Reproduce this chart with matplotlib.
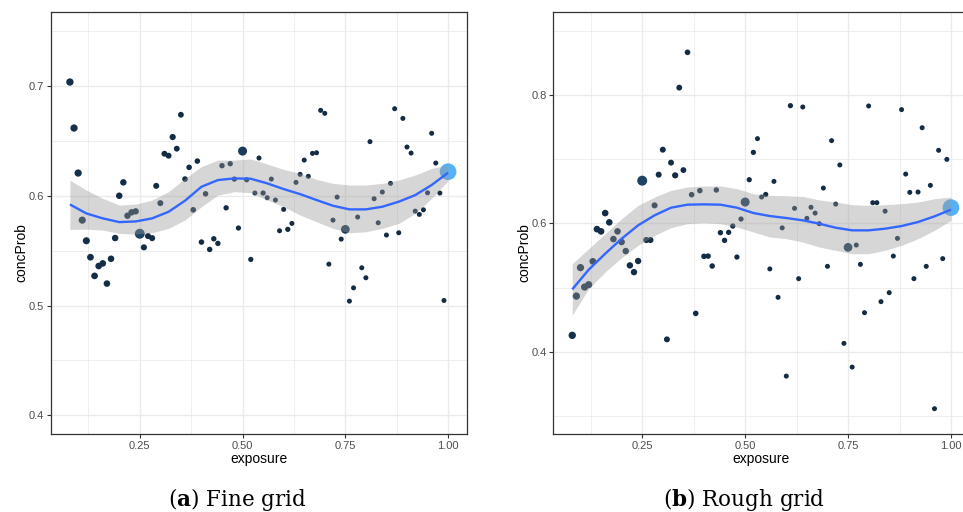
import numpy as np
import matplotlib
matplotlib.use("Agg")
import matplotlib.pyplot as plt
from matplotlib.colors import LinearSegmentedColormap
from matplotlib.ticker import MultipleLocator, FixedLocator

# ---- data -------------------------------------------------------------
exposure = [0.08, 0.09, 0.10, 0.11, 0.12, 0.13, 0.14, 0.15, 0.16, 0.17,
            0.18, 0.19, 0.20, 0.21, 0.22, 0.23, 0.24, 0.25, 0.26, 0.27,
            0.28, 0.29, 0.30, 0.31, 0.32, 0.33, 0.34, 0.35, 0.36, 0.37,
            0.38, 0.39, 0.40, 0.41, 0.42, 0.43, 0.44, 0.45, 0.46, 0.47,
            0.48, 0.49, 0.50, 0.51, 0.52, 0.53, 0.54, 0.55, 0.56, 0.57,
            0.58, 0.59, 0.60, 0.61, 0.62, 0.63, 0.64, 0.65, 0.66, 0.67,
            0.68, 0.69, 0.70, 0.71, 0.72, 0.73, 0.74, 0.75, 0.76, 0.77,
            0.78, 0.79, 0.80, 0.81, 0.82, 0.83, 0.84, 0.85, 0.86, 0.87,
            0.88, 0.89, 0.90, 0.91, 0.92, 0.93, 0.94, 0.95, 0.96, 0.97,
            0.98, 0.99, 1.00]

# number of policies per exposure value (mapped to size and colour)
n_policies = [118, 112, 110, 104, 97, 74, 70, 68, 66, 64,
              62, 60, 60, 58, 56, 55, 52, 450, 42, 40,
              40, 38, 37, 36, 35, 45, 33, 32, 27, 26,
              26, 25, 25, 24, 24, 23, 23, 23, 22, 22,
              21, 21, 300, 21, 21, 20, 20, 21, 20, 20,
              20, 20, 20, 21, 20, 20, 20, 20, 20, 20,
              20, 20, 20, 20, 20, 20, 20, 260, 20, 20,
              20, 20, 20, 20, 20, 20, 20, 20, 20, 20,
              20, 20, 20, 20, 20, 20, 20, 20, 20, 20,
              20, 20, 2400]

conc_fine = [0.7036, 0.6617, 0.6207, 0.5778, 0.5590, 0.5440, 0.5270, 0.5360, 0.5384, 0.5200,
             0.5426, 0.5615, 0.6000, 0.6122, 0.5818, 0.5849, 0.5858, 0.5654, 0.5530, 0.5633,
             0.5614, 0.6090, 0.5933, 0.6383, 0.6365, 0.6535, 0.6429, 0.6738, 0.6152, 0.6259,
             0.5872, 0.6316, 0.5578, 0.6018, 0.5511, 0.5608, 0.5566, 0.6274, 0.5890, 0.6292,
             0.6152, 0.5706, 0.6407, 0.6146, 0.5420, 0.6025, 0.6344, 0.6025, 0.5982, 0.6152,
             0.5961, 0.5681, 0.5876, 0.5694, 0.5748, 0.6122, 0.6195, 0.6325, 0.6177, 0.6386,
             0.6392, 0.6778, 0.6751, 0.5377, 0.5778, 0.5988, 0.5605, 0.5694, 0.5040, 0.5161,
             0.5806, 0.5344, 0.5253, 0.6493, 0.5973, 0.5754, 0.6034, 0.5642, 0.6113, 0.6793,
             0.5663, 0.6705, 0.6444, 0.6389, 0.5860, 0.5830, 0.5872, 0.6027, 0.6569, 0.6298,
             0.6025, 0.5046, 0.6219]

conc_rough = [0.4255, 0.4867, 0.5310, 0.5008, 0.5045, 0.5408, 0.5910, 0.5875, 0.6160, 0.6016,
              0.5755, 0.5875, 0.5709, 0.5568, 0.5345, 0.5240, 0.5413, 0.6665, 0.5740, 0.5740,
              0.6280, 0.6759, 0.7148, 0.4192, 0.6946, 0.6748, 0.8115, 0.6830, 0.8665, 0.6447,
              0.4597, 0.6510, 0.5486, 0.5490, 0.5335, 0.6520, 0.5855, 0.5735, 0.5860, 0.5958,
              0.5475, 0.6067, 0.6332, 0.6680, 0.7106, 0.7320, 0.6410, 0.6450, 0.5290, 0.6654,
              0.4847, 0.5930, 0.3620, 0.7834, 0.6234, 0.5138, 0.7813, 0.6078, 0.6250, 0.6160,
              0.5995, 0.6550, 0.5330, 0.7289, 0.6300, 0.6910, 0.4130, 0.5626, 0.3760, 0.5662,
              0.5361, 0.4608, 0.7829, 0.6322, 0.6322, 0.4780, 0.6190, 0.4920, 0.5490, 0.5766,
              0.7772, 0.6768, 0.6483, 0.5138, 0.6488, 0.7490, 0.5330, 0.6592, 0.3112, 0.7138,
              0.5450, 0.6997, 0.6245]

# smoothed trend with 95% band
smooth_x = [0.08, 0.12, 0.16, 0.20, 0.24, 0.28, 0.32, 0.36, 0.40, 0.44, 0.48, 0.52,
            0.56, 0.60, 0.64, 0.68, 0.72, 0.76, 0.80, 0.84, 0.88, 0.92, 0.96, 1.00]
fine_fit = [0.5921, 0.5839, 0.5794, 0.5760, 0.5766, 0.5794, 0.5854, 0.5955, 0.6082, 0.6143, 0.6158, 0.6155,
            0.6113, 0.6061, 0.6015, 0.5961, 0.5909, 0.5876, 0.5876, 0.5900, 0.5946, 0.6006, 0.6098, 0.6210]
fine_hi = [0.6143, 0.6052, 0.5976, 0.5915, 0.5924, 0.5961, 0.6037, 0.6158, 0.6265, 0.6325, 0.6325, 0.6335,
           0.6289, 0.6240, 0.6204, 0.6149, 0.6113, 0.6098, 0.6098, 0.6113, 0.6143, 0.6189, 0.6249, 0.6280]
fine_lo = [0.5693, 0.5696, 0.5687, 0.5657, 0.5651, 0.5663, 0.5703, 0.5779, 0.5900, 0.6006, 0.6037, 0.6028,
           0.5961, 0.5900, 0.5824, 0.5763, 0.5703, 0.5663, 0.5672, 0.5703, 0.5748, 0.5839, 0.5976, 0.6137]
rough_fit = [0.4971, 0.5278, 0.5527, 0.5761, 0.5969, 0.6125, 0.6244, 0.6291, 0.6296, 0.6291, 0.6244, 0.6161,
             0.6114, 0.6083, 0.6047, 0.5995, 0.5932, 0.5891, 0.5891, 0.5917, 0.5958, 0.6021, 0.6109, 0.6213]
rough_hi = [0.5371, 0.5605, 0.5839, 0.6073, 0.6280, 0.6410, 0.6514, 0.6566, 0.6582, 0.6582, 0.6540, 0.6462,
            0.6436, 0.6430, 0.6420, 0.6365, 0.6332, 0.6291, 0.6280, 0.6291, 0.6306, 0.6332, 0.6384, 0.6410]
rough_lo = [0.4570, 0.4982, 0.5242, 0.5465, 0.5657, 0.5813, 0.5932, 0.5995, 0.6010, 0.5995, 0.5943, 0.5865,
            0.5787, 0.5761, 0.5709, 0.5631, 0.5579, 0.5527, 0.5527, 0.5579, 0.5657, 0.5761, 0.5891, 0.6047]

x_ticks = [0.25, 0.50, 0.75, 1.00]
x_tick_labels = ["0.25", "0.50", "0.75", "1.00"]
fine_y_ticks = [0.4, 0.5, 0.6, 0.7]
rough_y_ticks = [0.4, 0.6, 0.8]
captions = [("a", "Fine grid"), ("b", "Rough grid")]

# ---- style ------------------------------------------------------------
plt.rcParams["font.family"] = ["Liberation Sans", "DejaVu Sans"]
plt.rcParams["mathtext.fontset"] = "dejavuserif"

W, H = 963, 512
fig = plt.figure(figsize=(W / 100, H / 100), dpi=100)
fig.patch.set_facecolor("white")

grad = LinearSegmentedColormap.from_list("gg_blues", ["#132B43", "#56B1F7"])
w = np.asarray(n_policies, dtype=float)
r = (w - w.min()) / (w.max() - w.min())
diam_px = 5.0 + 11.7 * np.sqrt(r)
sizes = (diam_px * 0.72) ** 2
colors = grad(r)

panel_h = 422 / H
panel_b = 1 - 434 / H
ax1 = fig.add_axes([51 / W, panel_b, 416 / W, panel_h])
ax2 = fig.add_axes([553.3 / W, panel_b, 416.6 / W, panel_h])


def draw_panel(ax, y, sx, fit, lo, hi, ylim, yticks, yminor):
    ax.set_facecolor("white")
    ax.set_xlim(0.034, 1.046)
    ax.set_ylim(*ylim)
    ax.xaxis.set_major_locator(FixedLocator(x_ticks))
    ax.set_xticklabels(x_tick_labels)
    ax.xaxis.set_minor_locator(FixedLocator([0.125, 0.375, 0.625, 0.875]))
    ax.yaxis.set_major_locator(FixedLocator(yticks))
    ax.set_yticklabels([f"{t:.1f}" for t in yticks])
    ax.yaxis.set_minor_locator(FixedLocator(yminor))
    ax.grid(which="major", color="#EBEBEB", lw=1.0, zorder=0)
    ax.grid(which="minor", color="#EBEBEB", lw=0.55, zorder=0)
    ax.set_axisbelow(True)
    for s in ax.spines.values():
        s.set_color("#333333")
        s.set_linewidth(0.9)
    ax.tick_params(which="major", direction="out", length=2.6, width=0.8,
                   color="#333333", labelcolor="#4D4D4D", labelsize=8, pad=2.2)
    ax.tick_params(which="minor", length=0)

    ax.scatter(exposure, y, s=sizes, c=colors, linewidths=0, zorder=2)
    ax.fill_between(sx, lo, hi, color="#999999", alpha=0.4, lw=0, zorder=3)
    ax.plot(sx, fit, color="#3366FF", lw=1.7, solid_capstyle="butt", zorder=4)


draw_panel(ax1, conc_fine, smooth_x, fine_fit, fine_lo, fine_hi,
           (0.38296, 0.76741), fine_y_ticks, [0.45, 0.55, 0.65, 0.75])
draw_panel(ax2, conc_rough, smooth_x, rough_fit, rough_lo, rough_hi,
           (0.27176, 0.92933), rough_y_ticks, [0.3, 0.5, 0.7, 0.9])

# axis titles
for cx, cy in [(259, 463.3), (761, 463.3)]:
    fig.text(cx / W, 1 - cy / H, "exposure", ha="center", va="baseline",
             fontsize=10, color="black")
for cx in [21.5, 524]:
    fig.text(cx / W, 1 - 223 / H, "concProb", ha="right", va="center",
             rotation=90, rotation_mode="anchor", fontsize=10, color="black")

# sub-figure captions
for (tag, name), cx in zip(captions, [237, 744]):
    fig.text(cx / W, 1 - 506 / H, rf"($\mathbf{{{tag}}}$) {name}",
             ha="center", va="baseline", fontsize=15.5,
             family="DejaVu Serif", color="black")

fig.savefig("out.png", dpi=100)
